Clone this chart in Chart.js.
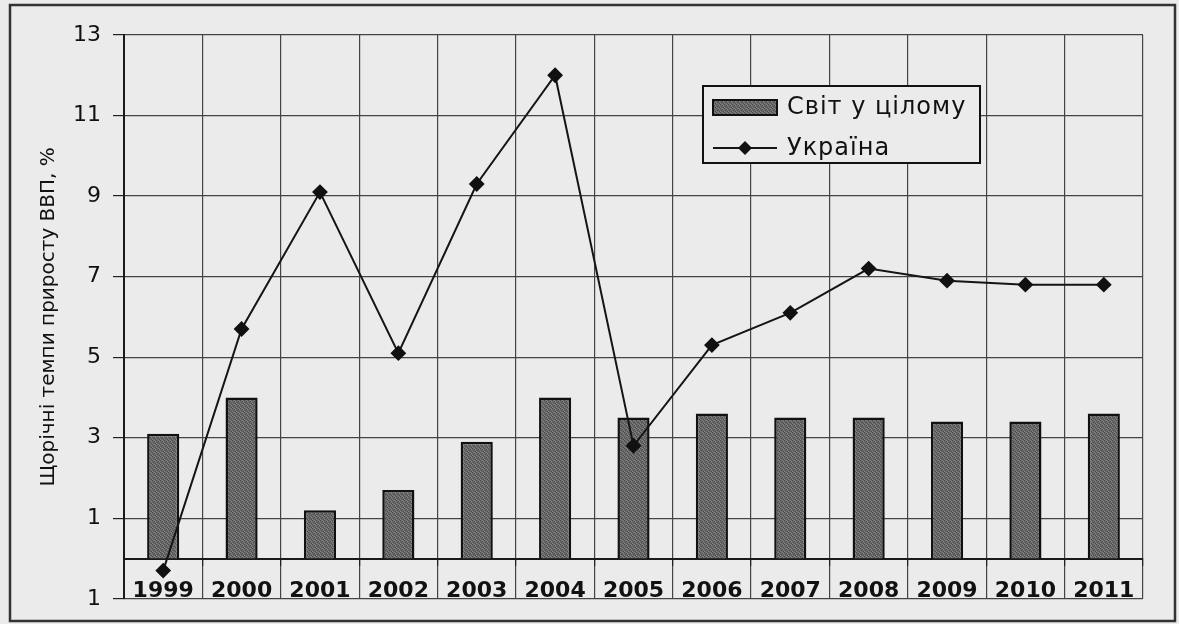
<!DOCTYPE html>
<html>
<head>
<meta charset="utf-8">
<script src="https://cdn.jsdelivr.net/npm/chart.js@4/dist/chart.umd.min.js"></script>
<style>
  html, body { margin: 0; padding: 0; background: #ebebeb; }
  #wrap { width: 1179px; height: 624px; }
</style>
</head>
<body>
<div id="wrap"><canvas id="chart" width="1179" height="624"></canvas></div>
<script>
const years = ['1999', '2000', '2001', '2002', '2003', '2004', '2005', '2006', '2007', '2008', '2009', '2010', '2011'];
const worldGrowth = [3.1, 4.0, 1.2, 1.7, 2.9, 4.0, 3.5, 3.6, 3.5, 3.5, 3.4, 3.4, 3.6];
const ukraineGrowth = [-0.3, 5.7, 9.1, 5.1, 9.3, 12.0, 2.8, 5.3, 6.1, 7.2, 6.9, 6.8, 6.8];
const yTicks = [-1, 1, 3, 5, 7, 9, 11, 13];
const yTickLabels = ['1', '1', '3', '5', '7', '9', '11', '13'];

const BG = '#ebebeb';
const FONT = 'DejaVu Sans';

// grainy dark-grey fill for the bars
function makeHatch() {
  const c = document.createElement('canvas');
  c.width = 4; c.height = 4;
  const g = c.getContext('2d');
  g.fillStyle = '#6a6a6a';
  g.fillRect(0, 0, 4, 4);
  g.fillStyle = '#4c4c4c';
  [[0, 0], [2, 1], [1, 2], [3, 3]].forEach(([x, y]) => g.fillRect(x, y, 1, 1));
  g.fillStyle = '#838383';
  [[2, 0], [0, 3], [3, 1]].forEach(([x, y]) => g.fillRect(x, y, 1, 1));
  return g.createPattern(c, 'repeat');
}

const ctx = document.getElementById('chart').getContext('2d');
const hatch = makeHatch();

const frame = {
  id: 'frame',
  beforeDraw(chart) {
    const c = chart.ctx;
    c.save();
    c.fillStyle = BG;
    c.fillRect(0, 0, chart.width, chart.height);
    c.strokeStyle = '#333';
    c.lineWidth = 2.5;
    c.strokeRect(10, 5, 1165, 616);
    c.restore();
  }
};

const boxLegend = {
  id: 'boxLegend',
  afterDraw(chart) {
    const c = chart.ctx;
    const bar = chart.data.datasets[1];
    const line = chart.data.datasets[0];
    c.save();
    c.fillStyle = BG;
    c.fillRect(703, 86, 277, 77);
    c.strokeStyle = '#111';
    c.lineWidth = 2;
    c.strokeRect(703, 86, 277, 77);

    c.fillStyle = bar.backgroundColor;
    c.fillRect(713, 100, 64, 15);
    c.strokeStyle = bar.borderColor;
    c.lineWidth = 2;
    c.strokeRect(713, 100, 64, 15);

    c.strokeStyle = line.borderColor;
    c.lineWidth = 2;
    c.beginPath();
    c.moveTo(713, 148);
    c.lineTo(777, 148);
    c.stroke();
    c.fillStyle = line.pointBackgroundColor;
    c.beginPath();
    c.moveTo(745, 141); c.lineTo(752, 148); c.lineTo(745, 155); c.lineTo(738, 148);
    c.closePath();
    c.fill();

    c.fillStyle = '#111';
    c.font = '24px "' + FONT + '"';
    c.letterSpacing = '1px';
    c.textBaseline = 'middle';
    c.fillText(bar.label, 787, 108);
    c.fillText(line.label, 787, 149);
    c.restore();
  }
};

new Chart(ctx, {
  type: 'bar',
  data: {
    labels: years,
    datasets: [
      {
        type: 'line',
        label: 'Україна',
        data: ukraineGrowth,
        borderColor: '#151515',
        borderWidth: 2,
        pointStyle: 'rectRot',
        pointRadius: 6.5,
        pointBackgroundColor: '#111',
        pointBorderColor: '#111',
        tension: 0,
        order: 0
      },
      {
        type: 'bar',
        label: 'Світ у цілому',
        data: worldGrowth,
        backgroundColor: hatch,
        borderColor: '#111',
        borderWidth: 2.5,
        barPercentage: 0.41,
        categoryPercentage: 1,
        order: 1
      }
    ]
  },
  options: {
    responsive: false,
    animation: false,
    layout: { padding: { left: 0, top: 35, right: 36, bottom: 22 } },
    plugins: {
      legend: { display: false },
      tooltip: { enabled: false }
    },
    scales: {
      x: {
        position: { y: 0 },
        grid: { offset: true, color: '#444', lineWidth: 1.2, tickLength: 6, tickColor: '#222' },
        border: { color: '#1a1a1a', width: 2 },
        ticks: {
          font: { family: FONT, size: 22, weight: 'bold' },
          color: '#111',
          padding: 14,
          maxRotation: 0,
          autoSkip: false
        }
      },
      y: {
        min: -1,
        max: 13,
        afterBuildTicks: s => { s.ticks = yTicks.map(v => ({ value: v })); },
        afterFit: s => { s.width = 124; },
        grid: { color: '#444', lineWidth: 1.2, tickLength: 11, tickColor: '#222' },
        border: { color: '#1a1a1a', width: 2 },
        ticks: {
          callback: v => yTickLabels[yTicks.indexOf(v)],
          font: { family: FONT, size: 22 },
          color: '#111',
          padding: 12
        },
        title: {
          display: true,
          text: 'Щорічні темпи приросту ВВП, %',
          font: { family: FONT, size: 20 },
          color: '#111',
          padding: { top: 37, bottom: 0 }
        }
      }
    }
  },
  plugins: [frame, boxLegend]
});
</script>
</body>
</html>
